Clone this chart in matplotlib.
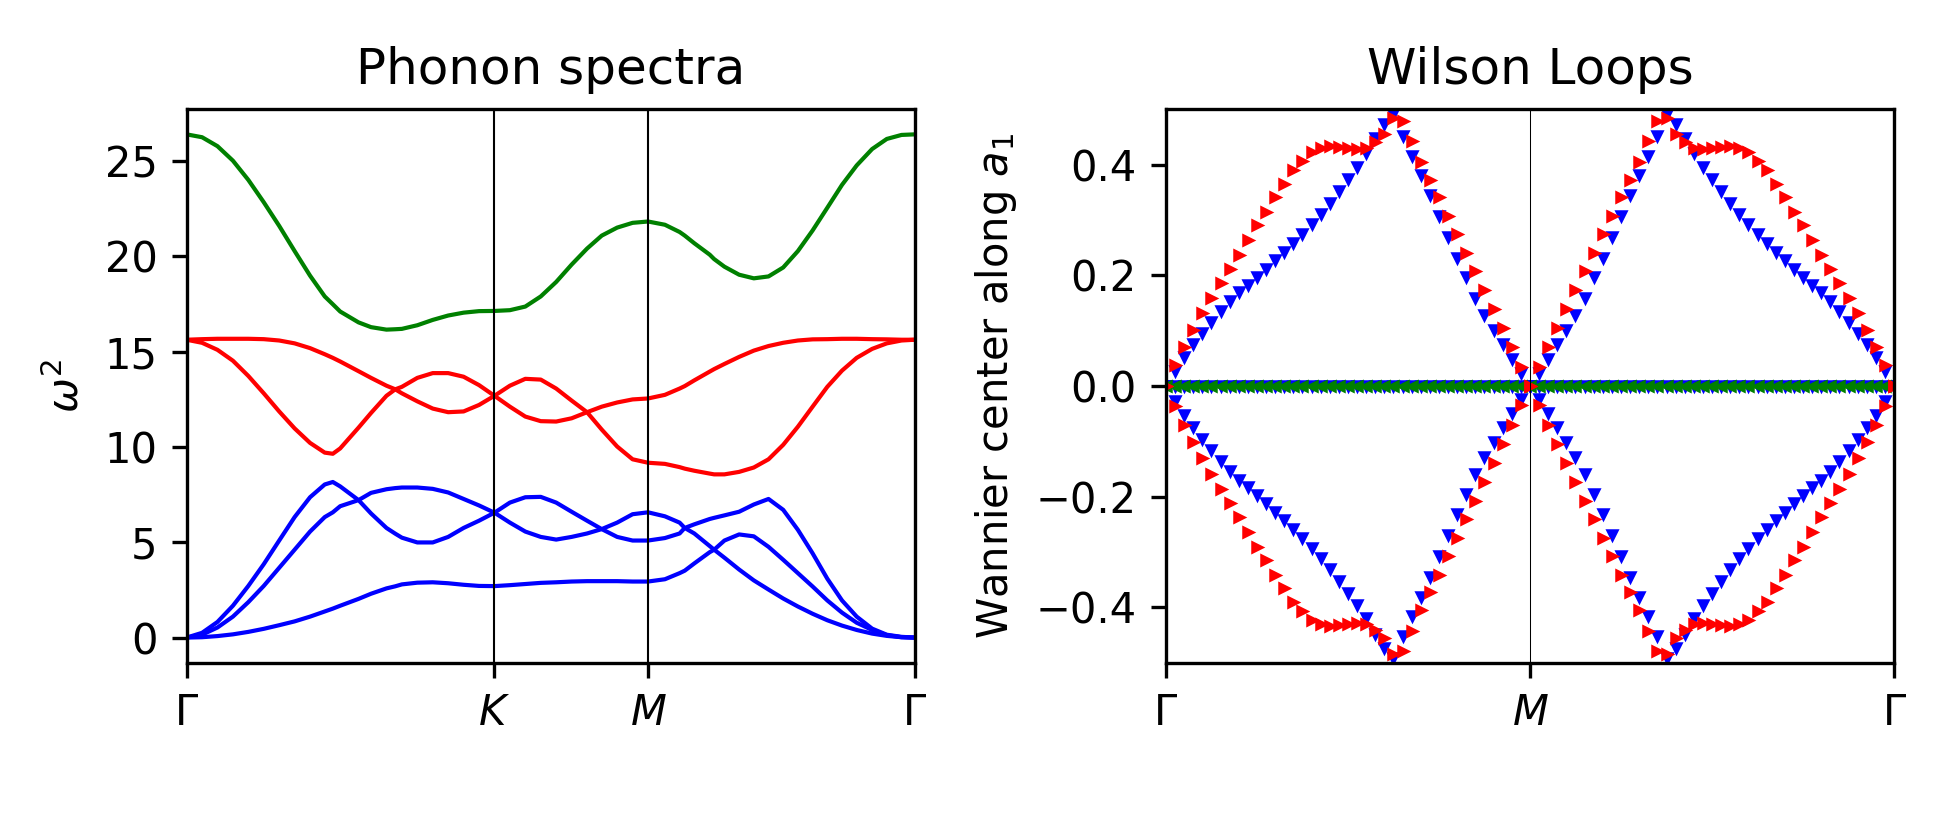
import numpy as np
import matplotlib
matplotlib.use('Agg')
import matplotlib.pyplot as plt

# ---- phonon bands along G-K-M-G (hexagonal path, a = 1), bands sorted by energy ----
k_path = [0.00, 0.21, 0.42, 0.63, 0.84, 1.05, 1.26, 1.47, 1.68, 1.88, 1.99, 2.09,
          2.34, 2.51, 2.72, 2.84, 2.93, 3.14, 3.35, 3.56, 3.77, 3.98, 4.19,
          4.40, 4.61, 4.82, 5.03, 5.24, 5.45, 5.65, 5.86, 6.07, 6.28,
          6.51, 6.71, 6.78, 6.91, 7.12, 7.18, 7.32, 7.52, 7.72, 7.92, 8.12, 8.32,
          8.52, 8.72, 8.92, 9.12, 9.33, 9.53, 9.73, 9.91]
k_nodes = [0.00, 4.19, 6.28, 9.91]
k_labels = [r'$\Gamma$', r'$K$', r'$M$', r'$\Gamma$']

band1 = [0, 0.02, 0.08, 0.17, 0.30, 0.46, 0.65, 0.85, 1.10, 1.37, 1.52, 1.67,
         2.03, 2.30, 2.58, 2.69, 2.79, 2.88, 2.90, 2.85, 2.77, 2.71, 2.70,
         2.75, 2.81, 2.87, 2.90, 2.94, 2.96, 2.96, 2.96, 2.94, 2.94,
         3.06, 3.38, 3.51, 3.89, 4.48, 4.61, 4.19, 3.57, 3.00, 2.52, 2.05, 1.63,
         1.25, 0.91, 0.63, 0.40, 0.21, 0.09, 0.02, 0]
band2 = [0, 0.15, 0.53, 1.10, 1.86, 2.71, 3.66, 4.61, 5.56, 6.32, 6.57, 6.89,
         7.21, 6.51, 5.75, 5.45, 5.24, 4.99, 4.99, 5.28, 5.75, 6.13, 6.55,
         6.03, 5.56, 5.28, 5.14, 5.28, 5.46, 5.69, 5.28, 5.09, 5.09,
         5.22, 5.46, 5.75, 5.46, 4.80, 4.61, 5.09, 5.41, 5.31, 4.76, 4.08, 3.38,
         2.68, 1.95, 1.31, 0.78, 0.40, 0.13, 0.02, 0]
band3 = [0, 0.25, 0.82, 1.67, 2.71, 3.85, 5.09, 6.32, 7.36, 8.03, 8.16, 7.93,
         7.21, 7.59, 7.78, 7.84, 7.87, 7.87, 7.80, 7.61, 7.27, 6.93, 6.55,
         7.08, 7.36, 7.38, 7.08, 6.60, 6.13, 5.69, 6.03, 6.47, 6.57,
         6.36, 6.03, 5.75, 5.94, 6.22, 6.28, 6.41, 6.60, 6.98, 7.27, 6.70, 5.65,
         4.42, 3.09, 1.95, 1.10, 0.47, 0.15, 0.04, 0]
band4 = [15.62, 15.46, 15.09, 14.52, 13.72, 12.81, 11.86, 10.97, 10.21, 9.70, 9.64, 9.92,
         11.01, 11.78, 12.68, 13.02, 12.81, 12.39, 12.01, 11.82, 11.86, 12.20, 12.68,
         12.11, 11.59, 11.35, 11.33, 11.50, 11.82, 10.91, 10.02, 9.35, 9.17,
         9.11, 8.94, 8.86, 8.75, 8.60, 8.56, 8.56, 8.69, 8.92, 9.35, 10.11, 11.06,
         12.11, 13.15, 14.00, 14.67, 15.14, 15.43, 15.58, 15.62]
band5 = [15.62, 15.65, 15.67, 15.67, 15.67, 15.65, 15.58, 15.43, 15.18, 14.86, 14.67, 14.48,
         13.97, 13.62, 13.21, 13.02, 13.15, 13.62, 13.87, 13.87, 13.68, 13.24, 12.68,
         13.21, 13.57, 13.53, 13.06, 12.43, 11.82, 12.11, 12.33, 12.49, 12.54,
         12.73, 13.06, 13.19, 13.49, 13.95, 14.08, 14.35, 14.72, 15.05, 15.29, 15.46, 15.58,
         15.64, 15.65, 15.67, 15.67, 15.65, 15.64, 15.62, 15.62]
band6 = [26.39, 26.24, 25.77, 25.01, 24.00, 22.83, 21.59, 20.27, 18.98, 17.89, 17.48, 17.10,
         16.53, 16.28, 16.15, 16.17, 16.19, 16.38, 16.66, 16.89, 17.04, 17.12, 17.13,
         17.17, 17.36, 17.89, 18.65, 19.56, 20.40, 21.08, 21.50, 21.75, 21.82,
         21.65, 21.27, 21.08, 20.68, 20.08, 19.85, 19.45, 19.03, 18.84, 18.94, 19.41, 20.27,
         21.35, 22.54, 23.74, 24.76, 25.62, 26.15, 26.36, 26.39]

# ---- Wilson loop phases along G-M-G (81 k points) ----
wl_k = np.linspace(0, 1, 81)
wl_nodes = [0, 0.5, 1]
wl_labels = [r'$\Gamma$', r'$M$', r'$\Gamma$']

wl_blue = [0, 0.027, 0.053, 0.075, 0.096, 0.116, 0.136, 0.153, 0.169, 0.183, 0.197,
           0.212, 0.228, 0.242, 0.259, 0.274, 0.292, 0.311, 0.331, 0.352, 0.374,
           0.396, 0.420, 0.448, 0.473, 0.491, 0.452, 0.415, 0.382, 0.345, 0.307,
           0.269, 0.232, 0.196, 0.159, 0.129, 0.102, 0.075, 0.048, 0.023, 0,
           0.023, 0.048, 0.075, 0.102, 0.129, 0.159, 0.196, 0.232, 0.269, 0.307,
           0.345, 0.382, 0.415, 0.452, 0.491, 0.473, 0.448, 0.420, 0.396, 0.374,
           0.352, 0.331, 0.311, 0.292, 0.274, 0.259, 0.242, 0.228, 0.212, 0.197,
           0.183, 0.169, 0.153, 0.136, 0.116, 0.096, 0.075, 0.053, 0.027, 0]
wl_red = [0, 0.037, 0.070, 0.102, 0.131, 0.159, 0.186, 0.211, 0.237, 0.264, 0.290,
          0.315, 0.342, 0.365, 0.390, 0.407, 0.422, 0.430, 0.434, 0.432, 0.430,
          0.428, 0.430, 0.440, 0.455, 0.485, 0.478, 0.442, 0.405, 0.373, 0.341,
          0.307, 0.274, 0.241, 0.207, 0.173, 0.139, 0.105, 0.070, 0.035, 0,
          0.035, 0.070, 0.105, 0.139, 0.173, 0.207, 0.241, 0.274, 0.307, 0.341,
          0.373, 0.405, 0.442, 0.478, 0.485, 0.455, 0.440, 0.430, 0.428, 0.430,
          0.432, 0.434, 0.430, 0.422, 0.407, 0.390, 0.365, 0.342, 0.315, 0.290,
          0.264, 0.237, 0.211, 0.186, 0.159, 0.131, 0.102, 0.070, 0.037, 0]
wl_flat = [0.0] * 81

fig, (ax1, ax2) = plt.subplots(1, 2, figsize=(6.5, 2.8))
fig.subplots_adjust(left=0.0957, right=0.9713, bottom=0.211, top=0.870, wspace=0.345)

# phonon spectra
for b in (band1, band2, band3):
    ax1.plot(k_path, b, color='b', lw=1)
for b in (band4, band5):
    ax1.plot(k_path, b, color='r', lw=1)
ax1.plot(k_path, band6, color='g', lw=1)
for kn in k_nodes[1:-1]:
    ax1.axvline(kn, color='k', lw=0.5)
ax1.set_xlim(k_nodes[0], k_nodes[-1])
ax1.set_xticks(k_nodes)
ax1.set_xticklabels(k_labels)
ax1.set_ylabel(r'$\omega^2$')
ax1.set_title('Phonon spectra')

# wilson loops
ms = 2.4
ax2.plot(wl_k, wl_blue, 'bv', ms=ms, mew=0.6)
ax2.plot(wl_k, -np.array(wl_blue), 'bv', ms=ms, mew=0.6)
ax2.plot(wl_k, wl_flat, 'bv', ms=ms, mew=0.6)
ax2.plot(wl_k, wl_flat, 'g<', ms=ms, mew=0.6)
ax2.plot(wl_k, wl_red, 'r>', ms=ms, mew=0.6)
ax2.plot(wl_k, -np.array(wl_red), 'r>', ms=ms, mew=0.6)
ax2.axvline(wl_nodes[1], color='k', lw=0.25)
ax2.set_xlim(0, 1)
ax2.set_ylim(-0.5, 0.5)
ax2.set_xticks(wl_nodes)
ax2.set_xticklabels(wl_labels)
ax2.set_ylabel(r'Wannier center along $a_1$')
ax2.set_title('Wilson Loops')

fig.savefig('out.png', dpi=300)
